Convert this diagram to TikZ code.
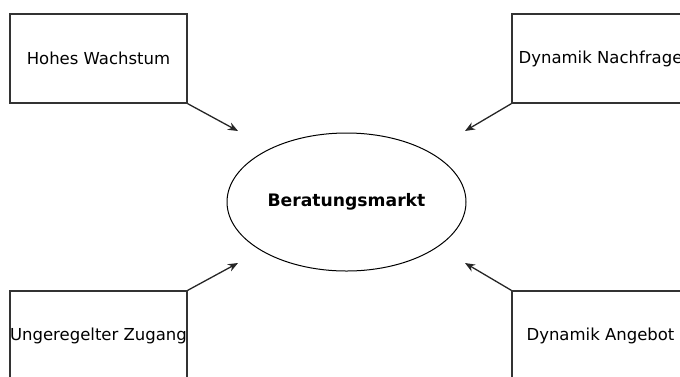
\documentclass[tikz,border=0pt]{standalone}
\usepackage{fontspec}
\setmainfont{DejaVu Sans}
\usetikzlibrary{arrows.meta, shapes.geometric}

\begin{document}
\begin{tikzpicture}[x=1pt, y=-1pt,
    box/.style={draw=black!80, line width=1.3pt, minimum width=177pt, minimum height=89pt, inner sep=0pt, font=\fontsize{16.5}{20}\selectfont},
    pfeil/.style={draw=black!85, line width=1.3pt, -{Stealth[length=10pt, width=8pt]}}]
    \useasboundingbox (0,0) rectangle (680,376);
    \node [ellipse, draw, line width=1pt, minimum width=239pt, minimum height=138pt, font=\fontsize{17.2}{20}\selectfont\bfseries] (markt) at (346.5,202) {Beratungsmarkt};
    \node [box] (wachstum) at (98.5,58.5) {Hohes Wachstum};
    \node [box] (nachfrage) at (600.5,58.5) {Dynamik Nachfrage};
    \node [box] (zugang) at (98.5,335.5) {Ungeregelter Zugang};
    \node [box] (angebot) at (600.5,335.5) {Dynamik Angebot};
    \coordinate (E1) at (238,131);
    \coordinate (E2) at (465,131);
    \coordinate (E3) at (238,263);
    \coordinate (E4) at (465,263);
    \draw [pfeil] (wachstum.south east) -- (E1);
    \draw [pfeil] (nachfrage.south west) -- (E2);
    \draw [pfeil] (zugang.north east) -- (E3);
    \draw [pfeil] (angebot.north west) -- (E4);
\end{tikzpicture}
\end{document}
